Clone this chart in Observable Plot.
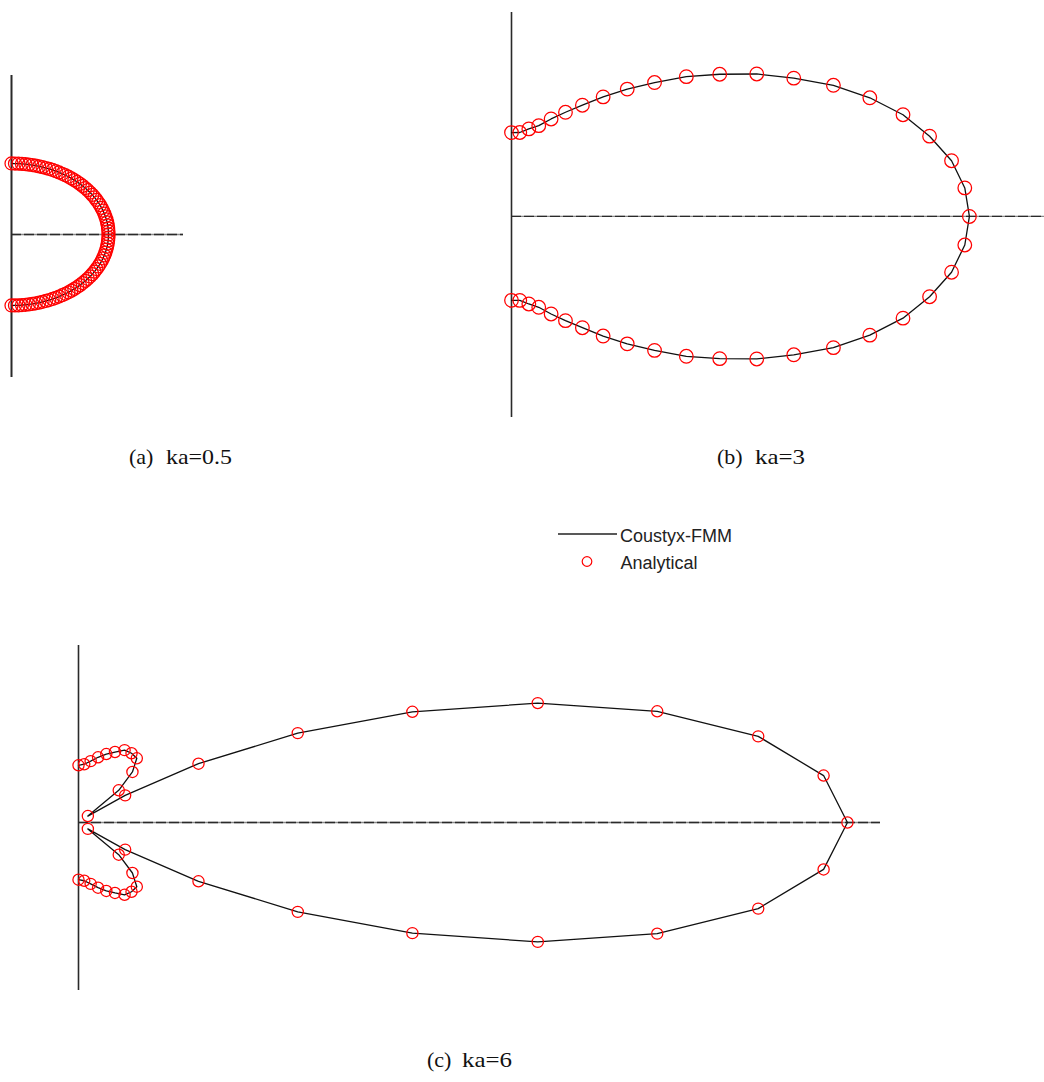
<!DOCTYPE html>
<html>
<head>
<meta charset="utf-8">
<script src="https://cdn.jsdelivr.net/npm/d3@7"></script>
<script src="https://cdn.jsdelivr.net/npm/@observablehq/plot@0.6"></script>
<style>
  html, body { margin: 0; padding: 0; background: #fff; overflow: hidden; }
  #page { position: relative; width: 1044px; height: 1082px; overflow: hidden; background: #fff; }
  #overlay { position: absolute; left: 0; top: 0; pointer-events: none; }
</style>
</head>
<body>
<div id="page"></div>
<script>
// Polar angles in degrees off the axis (one half; the other half mirrors it)
const anglesFine = [0, 2.25, 4.5, 6.75, 9, 11.25, 13.5, 15.75, 18, 20.25, 22.5, 24.75, 27, 29.25,
  31.5, 33.75, 36, 38.25, 40.5, 42.75, 45, 47.25, 49.5, 51.75, 54, 56.25, 58.5, 60.75, 63, 65.25,
  67.5, 69.75, 72, 74.25, 76.5, 78.75, 81, 83.25, 85.5, 87.75, 90];
const anglesCoarse = [0, 4.5, 9, 13.5, 18, 22.5, 27, 31.5, 36, 40.5, 45, 49.5, 54, 58.5, 63, 67.5,
  72, 76.5, 81, 85.5, 90];

// Normalised pressure magnitude |p(θ)| / |p(0)|
const ka05 = [1.000, 1.000, 0.999, 0.999, 0.998, 0.997, 0.995, 0.994, 0.992, 0.990, 0.988, 0.985,
  0.982, 0.980, 0.977, 0.974, 0.971, 0.967, 0.964, 0.961, 0.958, 0.954, 0.951, 0.948, 0.944, 0.941,
  0.938, 0.935, 0.933, 0.930, 0.927, 0.925, 0.923, 0.921, 0.920, 0.918, 0.917, 0.916, 0.916, 0.915, 0.915];
const ka3 = [1.000, 0.993, 0.973, 0.939, 0.899, 0.847, 0.789, 0.723, 0.662, 0.598, 0.540, 0.481,
  0.430, 0.383, 0.341, 0.308, 0.280, 0.255, 0.242, 0.230, 0.229];
const ka6 = [1.000, 0.972, 0.895, 0.774, 0.628, 0.470, 0.320, 0.183, 0.075, 0.016, 0.074, 0.108,
  0.129, 0.132, 0.132, 0.124, 0.117, 0.109, 0.101, 0.095, 0.093];

const captions = [
  {tag: "(a)", text: "ka=0.5"},
  {tag: "(b)", text: "ka=3"},
  {tag: "(c)", text: "ka=6"}
];
const legendLabels = ["Coustyx-FMM", "Analytical"];

// Full -90°..90° pattern in Cartesian form
function pattern(angles, r) {
  const rows = [];
  for (let i = angles.length - 1; i > 0; i--) rows.push({theta: -angles[i], r: r[i]});
  for (let i = 0; i < angles.length; i++) rows.push({theta: angles[i], r: r[i]});
  return rows.map(d => {
    const t = d.theta * Math.PI / 180;
    return {...d, x: d.r * Math.cos(t), y: d.r * Math.sin(t)};
  });
}

const page = document.getElementById("page");
const M = 12;

const panels = [
  {rows: pattern(anglesFine, ka05), left: 11, top: 75, w: 172, h: 302,
   xDomain: [0, 1.773], yDomain: [-1.843, 2.049], dotR: 6.5, axisW: 2},
  {rows: pattern(anglesCoarse, ka3), left: 511, top: 12, w: 533, h: 405,
   xDomain: [0, 1.164], yDomain: [-0.549, 0.557], dotR: 6.8, axisW: 1.6},
  {rows: pattern(anglesCoarse, ka6), left: 78, top: 645, w: 802, h: 345,
   xDomain: [0, 1.043], yDomain: [-0.2731, 0.2877], dotR: 5.6, axisW: 1.6}
];

for (const p of panels) {
  const svg = Plot.plot({
    width: p.w + 2 * M,
    height: p.h + 2 * M,
    marginLeft: M, marginRight: M, marginTop: M, marginBottom: M,
    x: {domain: p.xDomain, axis: null},
    y: {domain: p.yDomain, axis: null},
    style: {background: "transparent", overflow: "visible"},
    marks: [
      // horizontal axis: grey base with darker dashes on top
      Plot.ruleY([0], {stroke: "#8a8a8a", strokeWidth: 1.3}),
      Plot.ruleY([0], {stroke: "#2a2a2a", strokeWidth: 1.3, strokeDasharray: "10,3"}),
      Plot.ruleX([0], {stroke: "#2a2a2a", strokeWidth: p.axisW}),
      Plot.line(p.rows, {x: "x", y: "y", stroke: "#111", strokeWidth: 1.3}),
      Plot.dot(p.rows, {x: "x", y: "y", r: p.dotR, stroke: "#ff0000", fill: "none", strokeWidth: 1.25})
    ]
  });
  svg.style.position = "absolute";
  svg.style.maxWidth = "none";
  svg.style.left = (p.left - M) + "px";
  svg.style.top = (p.top - M) + "px";
  page.appendChild(svg);
}

// Sub-figure captions and the shared legend
const overlay = d3.select(page).append("svg")
  .attr("id", "overlay")
  .attr("width", 1044).attr("height", 1082);

const capPos = [
  {tagX: 129, textX: 166, y: 464, textW: 66},
  {tagX: 717, textX: 755, y: 464, textW: 50},
  {tagX: 427, textX: 462, y: 1067, textW: 50}
];
captions.forEach((c, i) => {
  const pos = capPos[i];
  const g = overlay.append("g")
    .attr("font-family", "'Liberation Serif', 'Times New Roman', serif")
    .attr("font-size", 22).attr("fill", "#111");
  g.append("text").attr("x", pos.tagX).attr("y", pos.y).text(c.tag);
  g.append("text").attr("x", pos.textX).attr("y", pos.y)
    .attr("textLength", pos.textW).attr("lengthAdjust", "spacingAndGlyphs").text(c.text);
});

const legend = overlay.append("g")
  .attr("font-family", "'Liberation Sans', Arial, sans-serif")
  .attr("font-size", 18).attr("fill", "#222");
legend.append("line")
  .attr("x1", 558).attr("x2", 617).attr("y1", 534).attr("y2", 534)
  .attr("stroke", "#222").attr("stroke-width", 1.4);
legend.append("text").attr("x", 620).attr("y", 541.5).text(legendLabels[0]);
legend.append("circle")
  .attr("cx", 587).attr("cy", 561.5).attr("r", 4.8)
  .attr("fill", "none").attr("stroke", "#ff0000").attr("stroke-width", 1.2);
legend.append("text").attr("x", 620.5).attr("y", 568.5).text(legendLabels[1]);
</script>
</body>
</html>
